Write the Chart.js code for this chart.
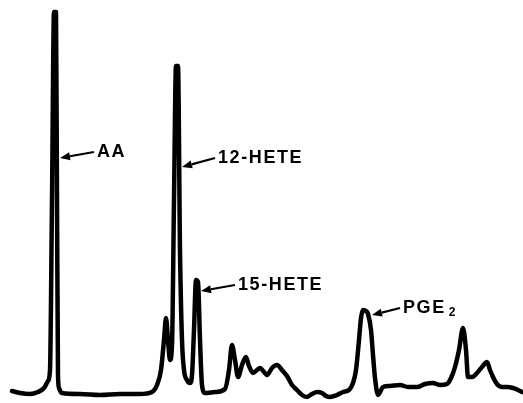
<!DOCTYPE html>
<html>
<head>
<meta charset="utf-8">
<script src="https://cdn.jsdelivr.net/npm/chart.js@4/dist/chart.umd.min.js"></script>
<style>
html,body{margin:0;padding:0;background:#fff;}
#wrap{position:relative;width:523px;height:403px;}
</style>
</head>
<body>
<div id="wrap"><canvas id="c" width="523" height="403"></canvas></div>
<script>
// Retention position (arbitrary units, left to right)
const retention = [12,20,30,38,44,48,50,52,54,56,57,58,59,62,80,100,120,140,152,157,161,164,166,168,170,172,174,176,178,180,182,184,187,190,192,194,196,198,200,202,205,215,225,229,232,235,238,242,246,249,253,257,260,264,267,272,277,282,287,292,297,302,307,312,317,322,326,330,337,343,349,353,356,359,361,363,366,368,371,373,375,378,383,390,400,408,417,425,433,440,447,451,455,459,463,466,468,472,477,482,487,490,493,497,502,507,513,518,522];
// Detector response (arbitrary units)
const response = [12,10,9,11,15,22,33,203,391,391,203,28,15,10,9,8,9,9,11,18,33,63,85,63,43,58,203,337,337,153,63,33,23,20,28,73,123,121,63,18,10,11,14,33,58,43,26,38,46,37,30,33,35,31,28,35,38,33,27,18,13,8,6,9,11,10,7,6,8,11,13,20,33,63,85,93,92,89,73,48,25,8,16,17,18,16,16,19,20,18,19,25,36,53,75,53,26,26,30,36,41,33,26,19,16,16,15,13,11];

// Annotations
const peakLabels = ['AA','12-HETE','15-HETE','PGE'];
const peakSubs   = ['','','','2'];
const arrowTipX  = [60,182,201,372];
const arrowTipY  = [245,236,112,88];
const labelX     = [97,218,238,403];
const labelY     = [251,245,118,95];

const annot = {
  id:'annot',
  afterDatasetsDraw(chart){
    const ctx = chart.ctx, xs = chart.scales.x, ys = chart.scales.y;
    const mainFont='bold 18px "Liberation Sans", Arial, sans-serif';
    ctx.save();
    ctx.fillStyle='#000'; ctx.strokeStyle='#000';
    ctx.textBaseline='middle';
    for(let i=0;i<peakLabels.length;i++){
      const tx=xs.getPixelForValue(arrowTipX[i]), ty=ys.getPixelForValue(arrowTipY[i]);
      const lx=xs.getPixelForValue(labelX[i]), ly=ys.getPixelForValue(labelY[i]);
      const sx=lx-3, sy=ly;
      const ang=Math.atan2(ty-sy, tx-sx);
      const hl=10, hw=4;
      const bx=tx-hl*Math.cos(ang), by=ty-hl*Math.sin(ang);
      ctx.lineWidth=2.2;
      ctx.beginPath(); ctx.moveTo(sx,sy); ctx.lineTo(bx,by); ctx.stroke();
      ctx.beginPath();
      ctx.moveTo(tx,ty);
      ctx.lineTo(bx+hw*Math.sin(ang), by-hw*Math.cos(ang));
      ctx.lineTo(bx-hw*Math.sin(ang), by+hw*Math.cos(ang));
      ctx.closePath(); ctx.fill();
      ctx.font=mainFont;
      ctx.letterSpacing='1.6px';
      ctx.textAlign='left';
      ctx.fillText(peakLabels[i], lx, ly);
      if(peakSubs[i]){
        const w=ctx.measureText(peakLabels[i]).width;
        ctx.font='bold 12px "Liberation Sans", Arial, sans-serif';
        ctx.fillText(peakSubs[i], lx+w+3, ly+5);
      }
    }
    ctx.restore();
  }
};

new Chart(document.getElementById('c'), {
  type:'line',
  data:{
    datasets:[{
      data: retention.map((x,i)=>({x:x, y:response[i]})),
      borderColor:'#000',
      borderWidth:4.5,
      pointRadius:0,
      fill:false,
      cubicInterpolationMode:'monotone',
      borderCapStyle:'round',
      borderJoinStyle:'round'
    }]
  },
  options:{
    responsive:false,
    animation:false,
    layout:{padding:0},
    plugins:{legend:{display:false}, tooltip:{enabled:false}},
    scales:{
      x:{type:'linear', min:0, max:523, display:false},
      y:{type:'linear', min:0, max:403, display:false}
    }
  },
  plugins:[annot]
});
</script>
</body>
</html>
